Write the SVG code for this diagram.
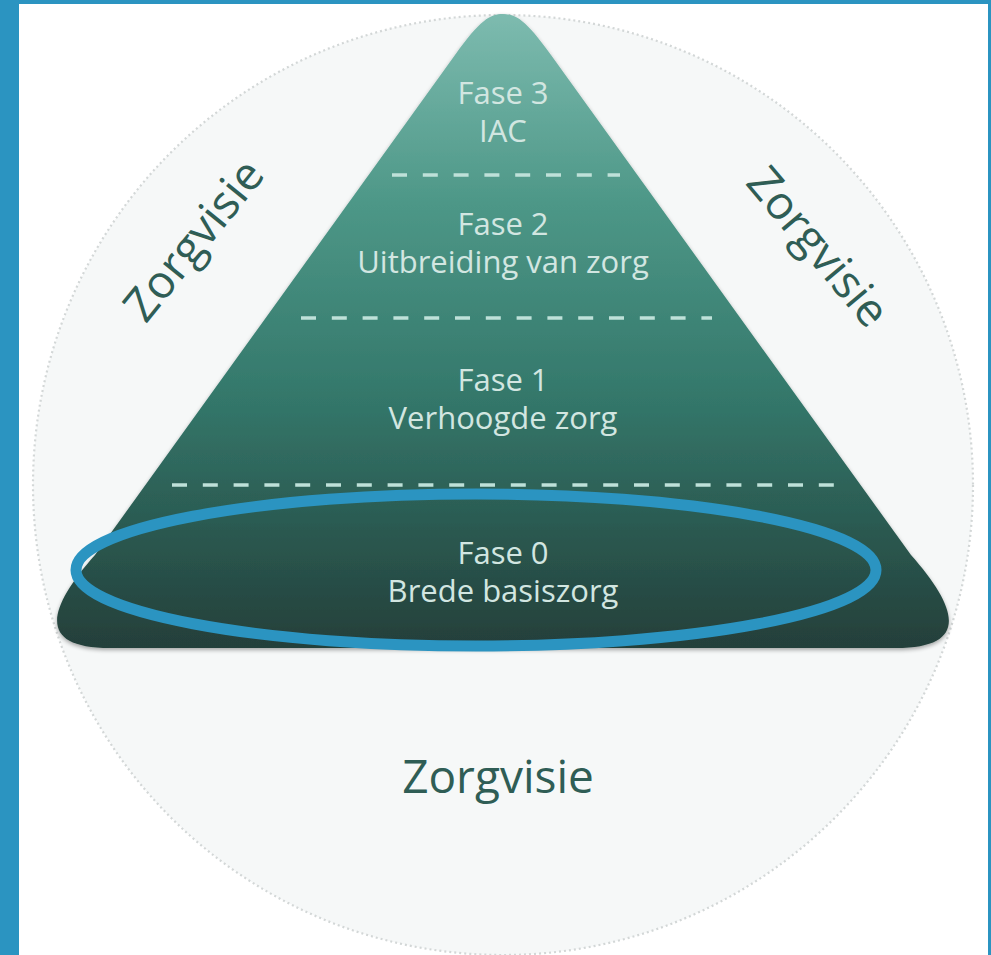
<svg xmlns="http://www.w3.org/2000/svg" width="991" height="955" viewBox="0 0 991 955">
  <defs>
    <linearGradient id="pyr" x1="0" y1="14" x2="0" y2="648" gradientUnits="userSpaceOnUse">
      <stop offset="0" stop-color="#7dbbaf"/>
      <stop offset="0.3" stop-color="#4d9787"/>
      <stop offset="0.6" stop-color="#34786b"/>
      <stop offset="0.8" stop-color="#2b5b52"/>
      <stop offset="1" stop-color="#243f3a"/>
    </linearGradient>
    <filter id="soft" x="-5%" y="-5%" width="110%" height="115%">
      <feGaussianBlur in="SourceAlpha" stdDeviation="2"/>
      <feOffset dy="2"/>
      <feComponentTransfer><feFuncA type="linear" slope="0.35"/></feComponentTransfer>
      <feMerge><feMergeNode/><feMergeNode in="SourceGraphic"/></feMerge>
    </filter>
  </defs>
  <style>
    .phase { font-family: "Open Sans", "Liberation Sans", sans-serif; font-size: 31px; fill: #d2e6e1; text-anchor: middle; }
    .visie { font-family: "Open Sans", "Liberation Sans", sans-serif; font-size: 46px; fill: #2f5d55; text-anchor: middle; }
    .dash { stroke: #bfe1d9; stroke-width: 3.5; stroke-dasharray: 15 15.8; fill: none; }
  </style>
  <rect x="0" y="0" width="991" height="955" fill="#ffffff"/>
  <g id="frame" fill="#2b94c1">
    <rect x="0" y="0" width="19" height="955"/>
    <rect x="0" y="0" width="991" height="4"/>
    <rect x="988" y="0" width="3" height="955"/>
  </g>
  <g id="circle">
    <circle cx="503" cy="485" r="470" fill="#f6f8f8" stroke="#d3d7d7" stroke-width="2.2" stroke-dasharray="2 3"/>
  </g>
  <g id="pyramid">
    <path d="M 455,55 C 480,20 490,14 503,14 C 516,14 526,20 551,55 L 911,555 C 958,608 970,648 896,648 L 110,648 C 36,648 48,608 95,555 Z" fill="url(#pyr)" filter="url(#soft)"/>
    <line class="dash" x1="392" y1="175" x2="620" y2="175"/>
    <line class="dash" x1="301" y1="318" x2="712" y2="318"/>
    <line class="dash" x1="172" y1="485" x2="834" y2="485"/>
  </g>
  <g id="fase3">
    <text class="phase" x="503" y="104">Fase 3</text>
    <text class="phase" x="503" y="142">IAC</text>
  </g>
  <g id="fase2">
    <text class="phase" x="503" y="235">Fase 2</text>
    <text class="phase" x="503" y="273">Uitbreiding van zorg</text>
  </g>
  <g id="fase1">
    <text class="phase" x="503" y="391">Fase 1</text>
    <text class="phase" x="503" y="429">Verhoogde zorg</text>
  </g>
  <g id="fase0">
    <text class="phase" x="503" y="564">Fase 0</text>
    <text class="phase" x="503" y="602">Brede basiszorg</text>
  </g>
  <g id="visie-left">
    <text class="visie" transform="translate(206,250) rotate(-51)">Zorgvisie</text>
  </g>
  <g id="visie-right">
    <text class="visie" transform="translate(806,257) rotate(50)">Zorgvisie</text>
  </g>
  <g id="visie-bottom">
    <text class="visie" x="498" y="793">Zorgvisie</text>
  </g>
  <g id="highlight">
    <ellipse cx="476" cy="570" rx="400" ry="76" fill="none" stroke="#2b94c1" stroke-width="11"/>
  </g>
</svg>
